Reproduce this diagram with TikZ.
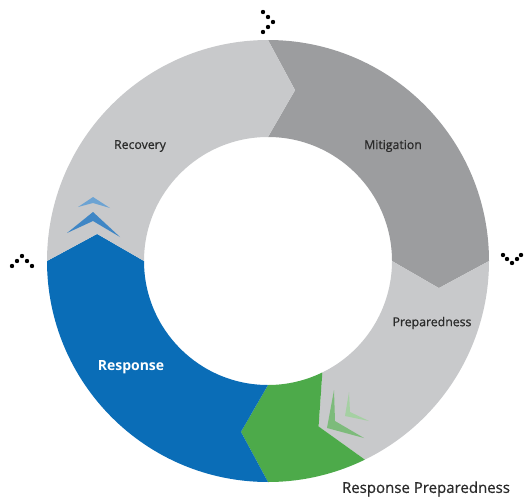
\documentclass[tikz,border=0pt]{standalone}
\usepackage{fontspec}
\setmainfont{Open Sans}
\newfontfamily\semifont[FakeBold=0.7]{Open Sans}
\definecolor{lgrey}{HTML}{C8C9CB}
\definecolor{dgrey}{HTML}{9C9D9F}
\definecolor{rblue}{HTML}{0A6DB7}
\definecolor{rgreen}{HTML}{4DAA4A}
\definecolor{blueA}{HTML}{3F86C5}
\definecolor{blueB}{HTML}{6CA3D3}
\definecolor{greenA}{HTML}{7DBB7B}
\definecolor{greenB}{HTML}{A5D0A3}
\definecolor{txt}{HTML}{2B2B2B}
\newcommand\ringseg[3]{%
  \fill[#1] (#2:221) arc[start angle=#2, end angle=#3, radius=221]
    -- ({#3-9}:173) -- (#3:124) arc[start angle=#3, end angle=#2, radius=124]
    -- ({#2-9}:173) -- cycle;}
\tikzset{
  lbl/.style={font=\semifont\fontsize{12.3}{14}\selectfont, text=txt, inner sep=0pt},
  dot/.style={fill=black, circle, minimum size=4.4pt, inner sep=0pt}
}
\begin{document}
\begin{tikzpicture}[x=1pt,y=1pt]
\useasboundingbox (0,0) rectangle (524,499);
\begin{scope}[shift={(268,238)}]
  \ringseg{dgrey}{90}{0}
  \ringseg{lgrey}{0}{-64}
  \ringseg{rgreen}{-64}{-90}
  \ringseg{rblue}{-90}{-180}
  \ringseg{lgrey}{180}{90}
\end{scope}
% small blue chevrons
\fill[blueA] (67,266) -- (93,287) -- (120,262) -- (93,278) -- cycle;
\fill[blueB] (78,292) -- (93,302) -- (110,291) -- (93,296) -- cycle;
% small green chevrons
\fill[greenA] (334,109) -- (327,71) -- (364,61) -- (335,78) -- cycle;
\fill[greenB] (349,107) -- (345,83) -- (369,78) -- (350,87) -- cycle;
% dots
\foreach \i/\x/\y in {1/263/487,2/268/482,3/273/477,4/268/472,5/263/467}
  \node[dot] (t\i) at (\x,\y) {};
\foreach \i/\x/\y in {1/12/233,2/17/238,3/22/243,4/27/238,5/32/233}
  \node[dot] (l\i) at (\x,\y) {};
\foreach \i/\x/\y in {1/503/244,2/507/240,3/512/236,4/517/240,5/521/244}
  \node[dot] (r\i) at (\x,\y) {};
% labels
\node[lbl] (recovery) at (140,353) {Recovery};
\node[lbl] (mitigation) at (393,353) {Mitigation};
\node[lbl] (prep) at (432,176) {Preparedness};
\node[font=\bfseries\fontsize{14}{16}\selectfont, text=white, inner sep=0pt] (response) at (131,132) {Response};
\node[font=\semifont\fontsize{15}{17}\selectfont, text=txt, inner sep=0pt] (rprep) at (426,10) {Response Preparedness};
\end{tikzpicture}
\end{document}
